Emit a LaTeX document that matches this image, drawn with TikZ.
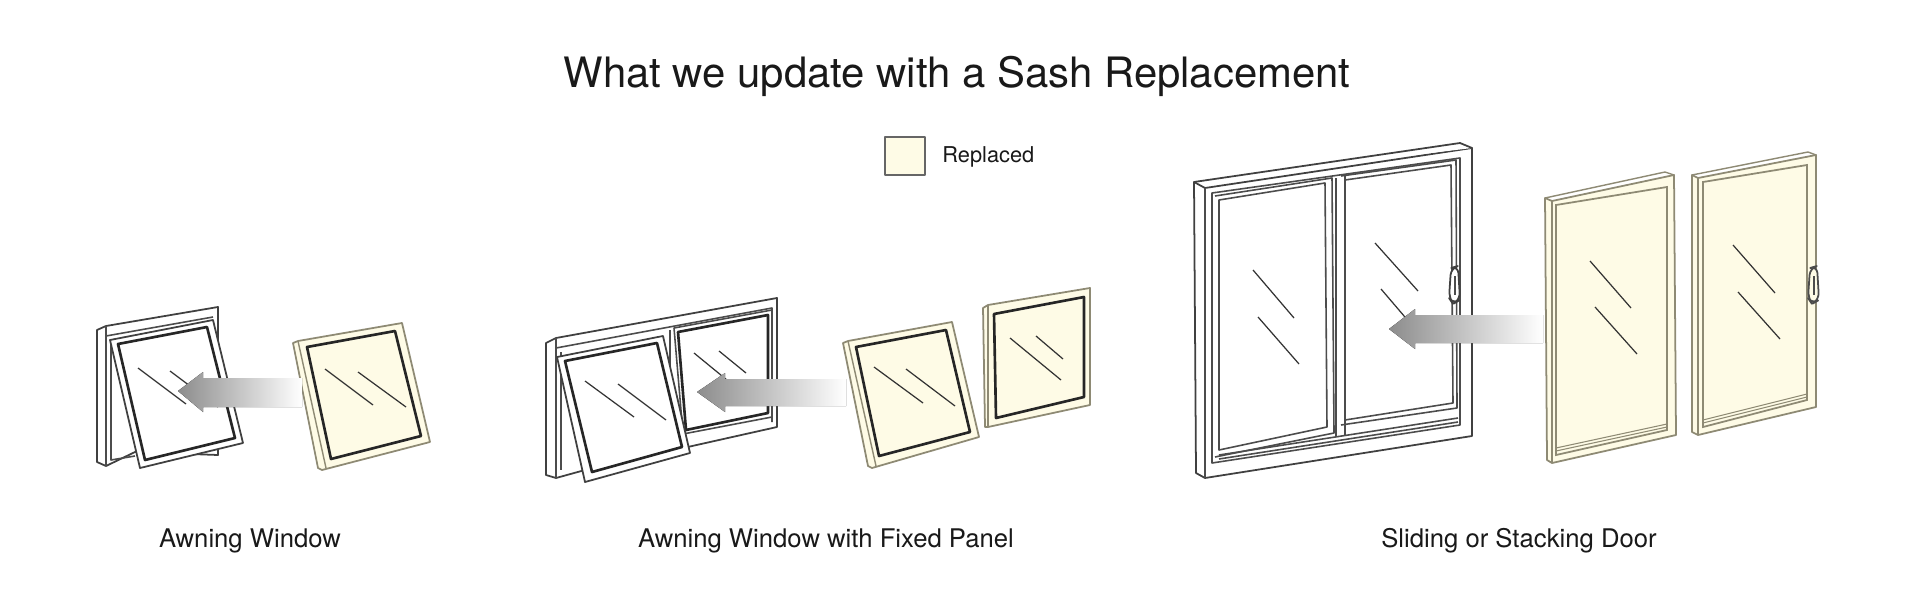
\documentclass[tikz,border=0pt]{standalone}
\usepackage{fontspec}
\setmainfont{TeX Gyre Heros}
\definecolor{cream}{HTML}{FEFBE6}
\definecolor{creamline}{HTML}{8E8A74}
\begin{document}
\begin{tikzpicture}[x=0.01cm,y=-0.01cm,
  frm/.style={draw=black!75,line width=0.5pt,fill=white,line join=round},
  rep/.style={draw=creamline,line width=0.5pt,fill=cream,line join=round},
  glass/.style={draw=black!85,line width=0.75pt,line join=round},
  glassthin/.style={draw=black!70,line width=0.45pt,line join=round},
  glint/.style={draw=black!80,line width=0.35pt},
  arr/.style={left color=black!45,right color=white,draw=none},
  lbl/.style={font=\fontsize{7.3}{8}\selectfont,text=black!90}]
\useasboundingbox (0,0) rectangle (1915,615);
\fill[white] (0,0) rectangle (1915,615);

% title and legend
\node[font=\fontsize{11.9}{14}\selectfont,text=black!90] (title) at (957,76) {What we update with a Sash Replacement};
\draw[rep,draw=black!60] (885,137) rectangle (925,175);
\node[anchor=west,font=\fontsize{6.2}{7}\selectfont,text=black!90] (leg) at (930,157) {Replaced};

% ===== Awning window =====
\draw[frm] (97,330) -- (106,326) -- (218,307) -- (218,455) -- (135,452) -- (106,466) -- (97,462) -- cycle;
\draw[glassthin] (106,326) -- (106,466);
\draw[glassthin] (106,336) -- (213,317);
\draw[glassthin] (111,340) -- (111,460) -- (135,456);
\draw[frm] (110,340) -- (213,320) -- (243,443) -- (140,468) -- cycle;
\draw[glass] (118,344) -- (207,327) -- (235,438) -- (145,460) -- cycle;
\draw[glint] (138,368) -- (186,404) (170,371) -- (218,407);

\draw[rep] (293,343) -- (298,341) -- (402,323) -- (430,442) -- (322,470) -- (318,468) -- cycle;
\draw[creamline,line width=0.4pt] (298,341) -- (326,468);
\draw[glass] (307,347) -- (395,331) -- (421,436) -- (331,459) -- cycle;
\draw[glint] (325,369) -- (373,405) (358,372) -- (406,407);

\fill[arr] (178,391) -- (203,372) -- (203,378) -- (302,378) -- (302,407) -- (203,407) -- (203,412) -- cycle;

\node[lbl] (l1) at (250,541) {Awning Window};

% ===== Awning window with fixed panel =====
\draw[frm] (546,343) -- (556,338) -- (777,298) -- (777,427) -- (585,470) -- (556,478) -- (546,475) -- cycle;
\draw[glassthin] (556,338) -- (556,478);
\draw[glassthin] (556,348) -- (772,308) -- (772,422);
\draw[glassthin] (561,352) -- (561,470);
\draw[glassthin] (670,330) -- (670,437);
\draw[glassthin] (674,328) -- (772,310) -- (772,417) -- (683,434) -- cycle;
\draw[glass] (678,332) -- (768,315) -- (768,413) -- (686,430) -- cycle;
\draw[glint] (694,353) -- (744,394) (719,351) -- (746,373);
\draw[frm] (557,357) -- (663,336) -- (690,453) -- (585,482) -- cycle;
\draw[glass] (565,361) -- (657,343) -- (682,447) -- (592,472) -- cycle;
\draw[glint] (585,381) -- (634,417) (618,384) -- (666,420);

\draw[rep] (843,343) -- (848,341) -- (952,322) -- (979,437) -- (872,468) -- (868,466) -- cycle;
\draw[creamline,line width=0.4pt] (848,341) -- (876,466);
\draw[glass] (856,347) -- (946,330) -- (970,432) -- (879,456) -- cycle;
\draw[glint] (874,367) -- (923,403) (906,369) -- (955,406);

\draw[rep] (983,308) -- (988,305) -- (1090,288) -- (1090,405) -- (988,427) -- (985,427) -- cycle;
\draw[creamline,line width=0.4pt] (988,305) -- (988,427);
\draw[glass] (994,314) -- (1084,297) -- (1084,397) -- (996,418) -- cycle;
\draw[glint] (1010,338) -- (1061,380) (1036,336) -- (1063,359);

\fill[arr] (697,392) -- (725,373) -- (725,379) -- (846,379) -- (846,406) -- (725,406) -- (725,412) -- cycle;

\node[lbl] (l2) at (826,541) {Awning Window with Fixed Panel};

% ===== Sliding or stacking door =====
\draw[frm] (1194,182) -- (1205,188) -- (1472,148) -- (1472,436) -- (1205,478) -- (1196,473) -- cycle;
\draw[frm] (1194,182) -- (1460,143) -- (1472,148);
\draw[glassthin] (1205,188) -- (1205,478);
\draw[glassthin] (1212,193) -- (1460,158) -- (1460,425) -- (1212,463) -- cycle;
\draw[glassthin] (1219,200) -- (1325,183) -- (1327,427) -- (1219,450) -- cycle;
\draw[glassthin] (1215,196) -- (1332,178) -- (1334,433) -- (1215,457);
\draw[glassthin] (1336,178) -- (1336,437) (1345,174) -- (1345,435);
\draw[glassthin] (1345,180) -- (1451,165) -- (1453,403) -- (1345,420) -- cycle;
\draw[glassthin] (1341,176) -- (1456,160) -- (1457,408) -- (1341,425);
\draw[glassthin] (1219,455) -- (1458,418) (1219,459) -- (1458,422);
\draw[glint] (1253,270) -- (1294,318) (1258,317) -- (1299,364);
\draw[glint] (1375,243) -- (1418,291) (1381,289) -- (1422,337);
\draw[frm,rounded corners=2pt] (1451,268) -- (1458,266) -- (1460,300) -- (1453,304) -- (1449,298) -- cycle;
\draw[glassthin] (1455,276) -- (1455,295);

\draw[rep] (1545,198) -- (1552,201) -- (1674,175) -- (1676,435) -- (1552,463) -- (1547,460) -- cycle;
\draw[creamline,line width=0.4pt] (1545,198) -- (1665,172) -- (1674,175);
\draw[creamline,line width=0.4pt] (1552,201) -- (1552,463);
\draw[creamline,line width=0.5pt] (1556,205) -- (1667,187) -- (1667,430) -- (1556,455) -- cycle;
\draw[creamline,line width=0.3pt] (1556,448) -- (1667,424) (1556,451) -- (1667,427);
\draw[glint] (1590,261) -- (1631,308) (1595,307) -- (1637,354);

\draw[rep] (1692,175) -- (1698,178) -- (1816,155) -- (1816,407) -- (1698,435) -- (1692,432) -- cycle;
\draw[creamline,line width=0.4pt] (1692,175) -- (1808,152) -- (1816,155);
\draw[creamline,line width=0.4pt] (1698,178) -- (1698,435);
\draw[creamline,line width=0.5pt] (1703,182) -- (1807,165) -- (1807,400) -- (1703,427) -- cycle;
\draw[creamline,line width=0.3pt] (1703,420) -- (1807,394) (1703,423) -- (1807,397);
\draw[glint] (1733,245) -- (1775,293) (1738,292) -- (1780,339);
\draw[rep,draw=black!70,rounded corners=2pt] (1810,268) -- (1817,266) -- (1819,300) -- (1812,304) -- (1808,298) -- cycle;
\draw[glassthin] (1814,276) -- (1814,295);

\fill[arr] (1389,329) -- (1415,309) -- (1415,315) -- (1543,315) -- (1543,343) -- (1415,343) -- (1415,349) -- cycle;

\node[lbl] (l3) at (1519,541) {Sliding or Stacking Door};
\end{tikzpicture}
\end{document}
